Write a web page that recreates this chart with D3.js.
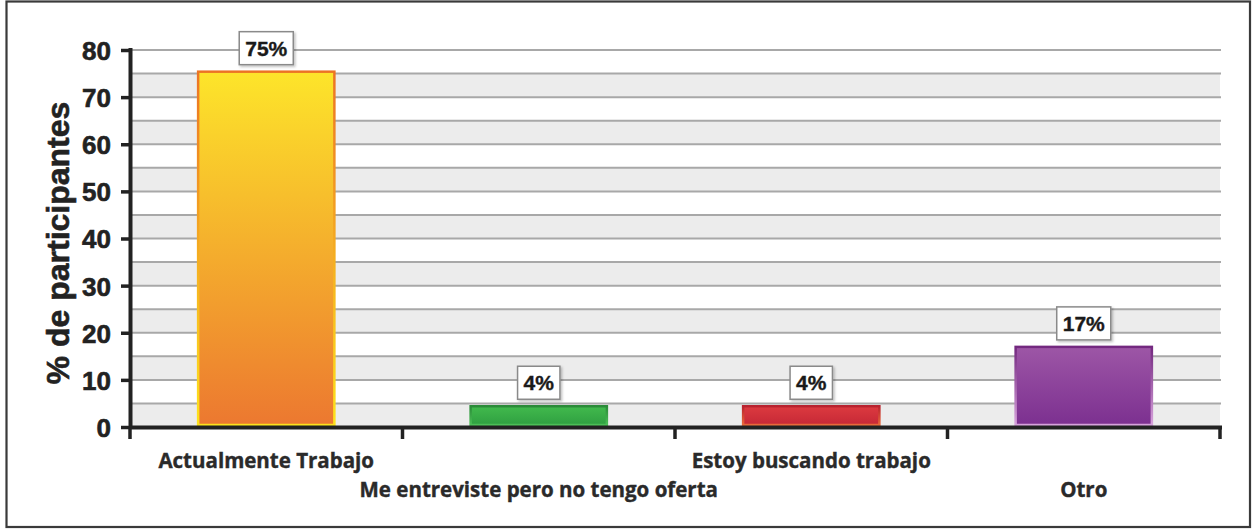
<!DOCTYPE html>
<html>
<head>
<meta charset="utf-8">
<script src="https://cdn.jsdelivr.net/npm/d3@7"></script>
<style>
  html, body { margin: 0; padding: 0; background: #fff; }
  svg { display: block; }
</style>
</head>
<body>
<svg id="chart" width="1252" height="529"></svg>
<script>
// ---- data ----
const categories = ["Actualmente Trabajo", "Me entreviste pero no tengo oferta", "Estoy buscando trabajo", "Otro"];
const values = [75.4, 4.4, 4.4, 17.0];
const valueLabels = ["75%", "4%", "4%", "17%"];
const yTicks = [0, 10, 20, 30, 40, 50, 60, 70, 80];
const yTitle = "% de participantes";

// ---- styling (kept separate from data) ----
const barStyles = [
  { top: "#fde52a", bottom: "#ec7830", strokeTop: "#ec7424", strokeBottom: "#fde21c" },
  { top: "#42ba4d", bottom: "#2f9f41", strokeTop: "#2a8a38", strokeBottom: "#4cc057" },
  { top: "#dc3a40", bottom: "#c62836", strokeTop: "#b8212e", strokeBottom: "#ea6a3a" },
  { top: "#9d56a6", bottom: "#7c3090", strokeTop: "#73287f", strokeBottom: "#d7a2dc" }
];

const svg = d3.select("#chart");
const defs = svg.append("defs");

const mLeft = 130, mRight = 1220, mTop = 50, mBottom = 427;
const y = d3.scaleLinear().domain([0, 80]).range([mBottom, mTop]);
const x = d3.scaleBand().domain(categories).range([mLeft, mRight]).paddingInner(0).paddingOuter(0);

// outer frame
svg.append("rect")
  .attr("x", 6.5).attr("y", 1.5).attr("width", 1243.5).attr("height", 525.5)
  .attr("fill", "#fff").attr("stroke", "#3a3a3a").attr("stroke-width", 2.2);

// alternating bands
const bandStarts = d3.range(0, 75, 10);
svg.append("g").selectAll("rect").data(bandStarts).join("rect")
  .attr("x", mLeft + 2).attr("width", mRight - mLeft - 2)
  .attr("y", d => y(d + 5)).attr("height", d => y(d) - y(d + 5))
  .attr("fill", "#ececec");

// gridlines every 5
const gridVals = d3.range(5, 81, 5);
svg.append("g").selectAll("line").data(gridVals).join("line")
  .attr("x1", mLeft + 2).attr("x2", mRight + 1)
  .attr("y1", d => y(d)).attr("y2", d => y(d))
  .attr("stroke", "#a8a8a8").attr("stroke-width", 2);

// gradients
barStyles.forEach((s, i) => {
  const g = defs.append("linearGradient").attr("id", "fill" + i)
    .attr("x1", 0).attr("y1", 0).attr("x2", 0).attr("y2", 1);
  g.append("stop").attr("offset", "0%").attr("stop-color", s.top);
  g.append("stop").attr("offset", "100%").attr("stop-color", s.bottom);
  const h = defs.append("linearGradient").attr("id", "stroke" + i)
    .attr("x1", 0).attr("y1", 0).attr("x2", 0).attr("y2", 1);
  h.append("stop").attr("offset", "0%").attr("stop-color", s.strokeTop);
  h.append("stop").attr("offset", "100%").attr("stop-color", s.strokeBottom);
});

const shadow = defs.append("filter").attr("id", "shadow").attr("x", "-20%").attr("y", "-20%").attr("width", "150%").attr("height", "150%");
shadow.append("feDropShadow").attr("dx", 1.5).attr("dy", 1.5).attr("stdDeviation", 1.2).attr("flood-color", "#000").attr("flood-opacity", 0.25);

// bars
const barW = x.bandwidth() * 0.5;
const data = categories.map((c, i) => ({ c, v: values[i], label: valueLabels[i], i }));
svg.append("g").selectAll("rect").data(data).join("rect")
  .attr("x", d => x(d.c) + (x.bandwidth() - barW) / 2)
  .attr("width", barW)
  .attr("y", d => y(d.v))
  .attr("height", d => y(0) - 2 - y(d.v))
  .attr("fill", d => `url(#fill${d.i})`)
  .attr("stroke", d => `url(#stroke${d.i})`)
  .attr("stroke-width", 2.5);

// value label boxes
const labelG = svg.append("g").selectAll("g").data(data).join("g")
  .attr("transform", d => `translate(${x(d.c) + x.bandwidth() / 2},${y(d.v) - 7})`);
labelG.each(function(d) {
  const g = d3.select(this);
  const t = g.append("text")
    .attr("text-anchor", "middle")
    .attr("y", -9)
    .attr("font-family", "Liberation Sans, Arial, sans-serif")
    .attr("font-weight", "bold")
    .attr("font-size", 21)
    .attr("fill", "#1a1a1a")
    .attr("stroke", "#1a1a1a").attr("stroke-width", 0.4)
    .text(d.label);
  const w = t.node().getComputedTextLength() + 12;
  g.insert("rect", "text")
    .attr("x", -w / 2).attr("y", -33).attr("width", w).attr("height", 33)
    .attr("fill", "#fff").attr("stroke", "#8a8a8a").attr("stroke-width", 1.5)
    .attr("filter", "url(#shadow)");
});

// y axis
const yAxis = d3.axisLeft(y).tickValues(yTicks).tickSize(9).tickPadding(10).tickFormat(d3.format("d"));
const yG = svg.append("g").attr("transform", `translate(${mLeft},0)`).call(yAxis);
yG.select(".domain").remove();
yG.selectAll(".tick line").attr("stroke", "#222").attr("stroke-width", 3.5);
yG.selectAll(".tick text")
  .attr("font-family", "Liberation Sans, Arial, sans-serif")
  .attr("font-weight", "bold").attr("font-size", 26).attr("fill", "#222")
  .attr("stroke", "#222").attr("stroke-width", 0.6)
  .attr("dy", "0.36em");
svg.append("line").attr("x1", mLeft + 0.5).attr("x2", mLeft + 0.5).attr("y1", mTop - 2).attr("y2", mBottom + 2)
  .attr("stroke", "#222").attr("stroke-width", 4);

// x axis
const xAxis = d3.axisBottom(x).tickSize(0).tickFormat("");
const xG = svg.append("g").attr("transform", `translate(0,${mBottom})`).call(xAxis);
xG.select(".domain").remove();
const boundaries = categories.map(c => x(c)).concat([x(categories[categories.length - 1]) + x.bandwidth()]);
svg.append("g").selectAll("line").data(boundaries).join("line")
  .attr("x1", d => d).attr("x2", d => d).attr("y1", mBottom).attr("y2", mBottom + 12)
  .attr("stroke", "#222").attr("stroke-width", 3.5);
svg.append("line").attr("x1", mLeft - 1).attr("x2", mRight + 2).attr("y1", mBottom + 0.5).attr("y2", mBottom + 0.5)
  .attr("stroke", "#222").attr("stroke-width", 4);

// x labels (staggered)
svg.append("g").selectAll("text").data(categories).join("text")
  .attr("x", d => x(d) + x.bandwidth() / 2)
  .attr("y", (d, i) => i % 2 === 0 ? 468 : 497)
  .attr("text-anchor", "middle")
  .attr("font-family", "Open Sans, sans-serif")
  .attr("font-weight", "bold")
  .attr("font-size", 20.5)
  .attr("fill", "#2a2a2a")
  .attr("stroke", "#2a2a2a").attr("stroke-width", 0.4)
  .text(d => d);

// y title
svg.append("text")
  .attr("transform", `translate(69,243) rotate(-90)`)
  .attr("text-anchor", "middle")
  .attr("font-family", "Liberation Sans, Arial, sans-serif")
  .attr("font-weight", "bold")
  .attr("font-size", 32)
  .attr("fill", "#222")
  .attr("stroke", "#222").attr("stroke-width", 0.6)
  .text(yTitle);
</script>
</body>
</html>
